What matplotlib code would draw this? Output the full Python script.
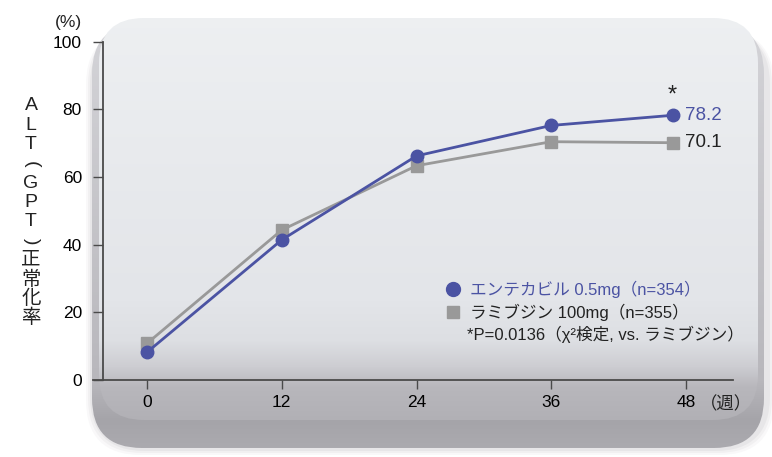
import numpy as np
import matplotlib
matplotlib.use('Agg')
import matplotlib.pyplot as plt
from matplotlib.patches import FancyBboxPatch
from matplotlib.colors import to_rgb

plt.rcParams['font.family'] = ['Liberation Sans', 'Noto Sans CJK JP', 'DejaVu Sans']

# data
weeks = [0, 12, 24, 36, 46.8]          # last point sits a bit left of the 48 tick
tick_weeks = [0, 12, 24, 36, 48]
entecavir = [8.2, 41.4, 66.2, 75.2, 78.2]
lamivudine = [10.8, 44.3, 63.3, 70.4, 70.1]
yticks = [0, 20, 40, 60, 80, 100]

lab_ent = 'エンテカビル 0.5mg（n=354）'
lab_lam = 'ラミブジン 100mg（n=355）'
lab_p = '*P=0.0136（χ²検定, vs. ラミブジン）'
ylab_chars = ['A', 'L', 'T', '(', 'G', 'P', 'T', ')', '正', '常', '化', '率']

c_ent = '#4b53a3'
c_lam = '#999999'
c_axis = '#4a4a4a'

W, H = 772, 457
fig = plt.figure(figsize=(W/100, H/100), dpi=100)

# ---- background "pillow" slab, in pixel coordinates
bg = fig.add_axes([0, 0, 1, 1])
bg.set_xlim(0, W)
bg.set_ylim(H, 0)
bg.axis('off')

def grad(stops):
    ys = np.arange(H)
    pos = [s[0] for s in stops]
    cols = np.array([to_rgb(s[1]) for s in stops])
    img = np.stack([np.interp(ys, pos, cols[:, k]) for k in range(3)], axis=-1)
    return np.repeat(img[:, None, :], 2, axis=1)

# soft shadow
for k, a in enumerate([0.05, 0.07, 0.09]):
    sh = FancyBboxPatch((92 - 6 + 2*k, 30), 676 + 12 - 4*k, 425 - 2*k,
                        boxstyle='round,pad=0,rounding_size=55',
                        fc='#8a898e', ec='none', alpha=a, zorder=0)
    bg.add_patch(sh)

slab = FancyBboxPatch((92, 24), 672, 424, boxstyle='round,pad=0,rounding_size=50',
                      fc='none', ec='none')
bg.add_patch(slab)
im1 = bg.imshow(grad([(0, '#d6d6da'), (380, '#b8b7bc'), (420, '#a5a4a9'), (456, '#adacb1')]),
                extent=[0, W, H, 0], aspect='auto', zorder=1)
im1.set_clip_path(slab)

face = FancyBboxPatch((99, 18), 659, 402, boxstyle='round,pad=0,rounding_size=45',
                      fc='none', ec='none')
bg.add_patch(face)
im2 = bg.imshow(grad([(0, '#eef0f2'), (300, '#e3e5e9'), (340, '#dddfe3'),
                      (366, '#cdcdd2'), (386, '#b8b7bc'), (420, '#b1b0b5'), (456, '#b1b0b5')]),
                extent=[0, W, H, 0], aspect='auto', zorder=2)
im2.set_clip_path(face)

# ---- main chart
x0_px, x48_px = 147, 686
ppw = (x48_px - x0_px) / 48.0
left_px, right_px, top_px, bot_px = 93, 733, 41.5, 380
ax = fig.add_axes([left_px/W, 1 - bot_px/H, (right_px - left_px)/W, (bot_px - top_px)/H])
ax.set_facecolor('none')
ax.set_xlim((left_px - x0_px)/ppw, (right_px - x0_px)/ppw)
ax.set_ylim(0, 100)
for s in ['top', 'right']:
    ax.spines[s].set_visible(False)
ax.spines['left'].set_position(('data', (103 - x0_px)/ppw))
for s in ['left', 'bottom']:
    ax.spines[s].set_color(c_axis)
    ax.spines[s].set_linewidth(1.3)

ax.set_xticks(tick_weeks)
ax.set_yticks(yticks)
ax.tick_params(axis='y', length=7.2, width=1, color=c_axis, pad=8, labelsize=12.5)
ax.tick_params(axis='x', length=6.5, width=1, color=c_axis, pad=4, labelsize=12.5)

ax.plot(weeks, lamivudine, color=c_lam, lw=2, marker='s', ms=8.5, mec=c_lam, mfc=c_lam, zorder=3)
ax.plot(weeks, entecavir, color=c_ent, lw=2, marker='o', ms=9, mec=c_ent, mfc=c_ent, zorder=4)

ax.annotate('%.1f' % entecavir[-1], (weeks[-1], entecavir[-1]), xytext=(9, 0),
            textcoords='offset points', va='center', ha='left', color=c_ent, fontsize=13.5)
ax.annotate('%.1f' % lamivudine[-1], (weeks[-1], lamivudine[-1]), xytext=(9, 0),
            textcoords='offset points', va='center', ha='left', color='#222222', fontsize=13.5)
ax.annotate('*', (weeks[-1], entecavir[-1]), xytext=(0, 6),
            textcoords='offset points', va='bottom', ha='center', color='#222222', fontsize=17)

# unit labels
fig.text(68/W, 1 - 22/H, '(%)', ha='center', va='center', fontsize=12.5, color='#222222')
ax.annotate('（週）', (48, 0), xytext=(10, -17), textcoords='offset points',
            ha='left', va='center', fontsize=12.5, color='#222222')

# vertical y label, brackets turned for vertical writing
for i, ch in enumerate(ylab_chars):
    rot = -90 if ch in '()' else 0
    fig.text(31/W, 1 - (106 + i*19.3)/H, ch, ha='center', va='center', rotation=rot,
             fontsize=14, color='#222222')

# legend drawn by hand
fig.lines.append(plt.Line2D([453/W], [1 - 289/H], marker='o', ms=10, color=c_ent,
                            transform=fig.transFigure))
fig.lines.append(plt.Line2D([453/W], [1 - 312/H], marker='s', ms=9, color=c_lam,
                            transform=fig.transFigure))
fig.text(470/W, 1 - 289/H, lab_ent, ha='left', va='center', fontsize=12, color=c_ent)
fig.text(470/W, 1 - 312/H, lab_lam, ha='left', va='center', fontsize=12, color='#222222')
fig.text(467/W, 1 - 334/H, lab_p, ha='left', va='center', fontsize=12, color='#222222')

fig.savefig('out.png', dpi=100)
